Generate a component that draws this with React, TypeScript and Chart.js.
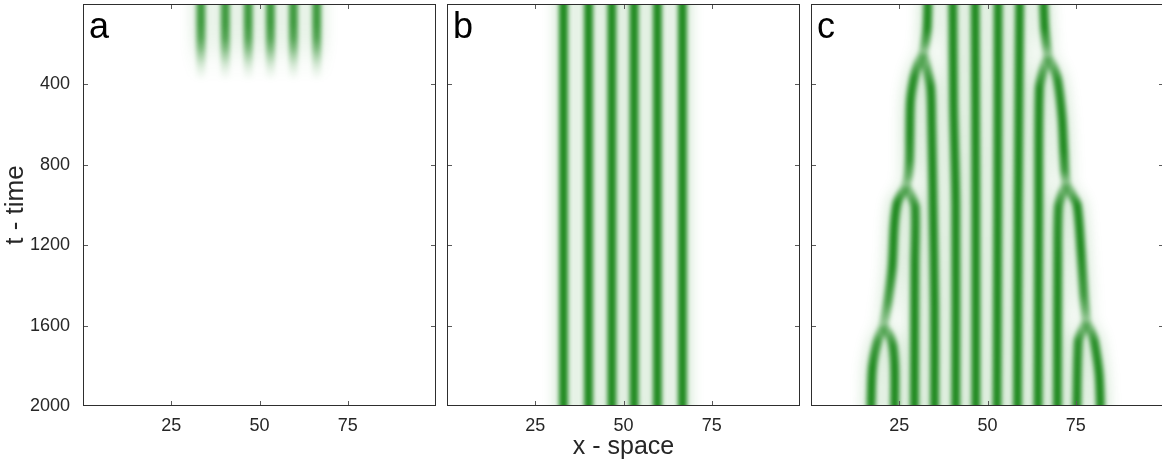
import React, { useEffect, useRef } from 'react';
import { Chart, registerables } from 'chart.js';

Chart.register(...registerables);

// ---------- axes ----------
const X_TICKS = [25, 50, 75];
const T_TICKS = [400, 800, 1200, 1600, 2000];
const X_MIN = 0;
const X_MAX = 100;
const T_MIN = 0;
const T_MAX = 2000;
const PANEL_LETTERS = ['a', 'b', 'c'];
const X_TITLE = 'x - space';
const T_TITLE = 't - time';

// ---------- panel a : six stripes that die out ----------
const A_STRIPE_X = [33.4, 40.3, 46.8, 53.1, 59.6, 66.2];
const A_FADE_T = [0, 100, 170, 220, 260, 300, 340, 380];
const A_FADE_I = [0.85, 0.85, 0.75, 0.55, 0.35, 0.18, 0.07, 0];

// ---------- panel b : six steady stripes ----------
const B_STRIPE_X = [33.0, 40.1, 46.7, 53.0, 59.6, 66.7];
const B_T = [T_MIN, T_MAX];

// ---------- panel c : stripes that split ([x, t, intensity]) ----------
const C_MID1 = [[40.2, 0, 1], [40.4, 500, 1], [41.0, 1000, 1], [41.0, 2000, 1]];
const C_MID2 = [[46.5, 0, 1], [46.7, 1000, 1], [46.7, 2000, 1]];
const C_MID3 = [[53.0, 0, 1], [52.9, 1000, 1], [52.7, 2000, 1]];
const C_MID4 = [[59.1, 0, 1], [58.7, 1000, 1], [58.5, 2000, 1]];

const C_L0 = [[33.1, 0, 1], [32.9, 120, 1], [32.4, 190, 0.75], [31.8, 245, 0.4]];
const C_L1R = [[31.8, 245, 0.4], [32.8, 320, 0.7], [33.9, 415, 1], [34.2, 600, 1], [34.6, 1000, 1], [35.0, 1500, 1], [35.0, 2000, 1]];
const C_L1L = [[31.8, 245, 0.4], [30.3, 300, 0.7], [29.2, 365, 0.95], [28.2, 480, 1], [28.0, 650, 1], [27.9, 780, 0.9], [27.5, 860, 0.65], [26.9, 905, 0.4]];
const C_L2L = [[26.9, 905, 0.4], [25.6, 945, 0.75], [24.4, 990, 1], [23.6, 1100, 1], [23.0, 1310, 1], [21.8, 1480, 0.8], [21.2, 1540, 0.6], [20.5, 1600, 0.4]];
const C_L2R = [[26.9, 905, 0.4], [28.4, 955, 0.65], [29.5, 1010, 0.95], [29.4, 1300, 1], [29.3, 2000, 1]];
const C_L3L = [[20.5, 1600, 0.4], [18.8, 1680, 0.85], [17.4, 1810, 1], [17.0, 2000, 1]];
const C_L3R = [[20.5, 1600, 0.4], [22.3, 1650, 0.7], [23.2, 1700, 0.95], [23.7, 1810, 1], [23.7, 2000, 1]];

const C_R0 = [[65.9, 0, 1], [66.2, 120, 1], [66.7, 200, 0.75], [67.1, 260, 0.4]];
const C_R1L = [[67.1, 260, 0.4], [65.6, 340, 0.75], [64.7, 420, 1], [64.5, 1000, 1], [64.3, 2000, 1]];
const C_R1R = [[67.1, 260, 0.4], [68.8, 320, 0.7], [69.9, 380, 0.95], [71.1, 560, 1], [71.6, 730, 1], [71.9, 830, 0.85], [72.3, 895, 0.4]];
const C_R2L = [[72.3, 895, 0.4], [71.0, 950, 0.7], [70.1, 1010, 0.95], [69.9, 1300, 1], [69.8, 2000, 1]];
const C_R2R = [[72.3, 895, 0.4], [74.0, 950, 0.7], [75.4, 1000, 1], [76.5, 1230, 1], [77.3, 1450, 0.85], [77.7, 1520, 0.65], [78.0, 1580, 0.4]];
const C_R3L = [[78.0, 1580, 0.4], [76.4, 1640, 0.7], [75.7, 1680, 0.95], [75.3, 2000, 1]];
const C_R3R = [[78.0, 1580, 0.4], [79.6, 1640, 0.75], [80.3, 1680, 0.95], [81.6, 1840, 1], [82.0, 2000, 1]];

const C_PATHS = [C_MID1, C_MID2, C_MID3, C_MID4, C_L0, C_L1R, C_L1L, C_L2L, C_L2R, C_L3L, C_L3R, C_R0, C_R1L, C_R1R, C_R2L, C_R2R, C_R3L, C_R3R];

// ---------- styling ----------
const FONT = '"Liberation Sans", Arial, Helvetica, sans-serif';
const TEXT = '#262626';
const HALO_BLUR = 5;
const CORE_BLUR = 2.1;
const CORE_WIDTH = 9;
const HALO_WIDTH = 22;
const HALO_ALPHA = 0.14;
const rgba = (a: number) => `rgba(34,139,34,${Math.max(0, Math.min(1, a)).toFixed(3)})`;

// vertical gradient following the intensity read along the stripe
function intensityGradient(path: number[][], scale: number) {
  return (ctx: any) => {
    const chart = ctx.chart;
    const area = chart.chartArea;
    const ys = chart.scales && chart.scales.y;
    if (!area || !ys) return rgba(scale);
    const h = area.bottom - area.top;
    const g = chart.ctx.createLinearGradient(0, area.top, 0, area.bottom);
    path.forEach((p) => {
      const off = Math.max(0, Math.min(1, (ys.getPixelForValue(p[1]) - area.top) / h));
      g.addColorStop(off, rgba(p[2] * scale));
    });
    return g;
  };
}

function stripeDatasets(path: number[][]): any[] {
  const data = path.map((p) => ({ x: p[0], y: p[1] }));
  const common = {
    data,
    pointRadius: 0,
    pointHoverRadius: 0,
    tension: 0.3,
    fill: false,
    clip: 0,
    borderCapStyle: 'butt',
  };
  return [
    { ...common, layer: 'core', borderColor: intensityGradient(path, 1), borderWidth: CORE_WIDTH, order: 0 },
    { ...common, layer: 'halo', borderColor: intensityGradient(path, HALO_ALPHA), borderWidth: HALO_WIDTH, order: 1 },
  ];
}

function panelA(): any[] {
  return A_STRIPE_X.flatMap((x) => stripeDatasets(A_FADE_T.map((t, k) => [x, t, A_FADE_I[k]])));
}
function panelB(): any[] {
  return B_STRIPE_X.flatMap((x) => stripeDatasets(B_T.map((t) => [x, t, 1])));
}
function panelC(): any[] {
  return C_PATHS.flatMap((p) => stripeDatasets(p));
}

// soften everything drawn inside the plot area (one blur pass on the composite)
function blurArea(chart: any, px: number) {
  const { ctx, canvas, chartArea: a } = chart;
  const x = Math.round(a.left);
  const y = Math.round(a.top);
  const w = Math.round(a.right) - x;
  const h = Math.round(a.bottom) - y;
  const P = Math.ceil(px * 4);
  const off = document.createElement('canvas');
  off.width = w;
  off.height = h + 2 * P;
  const o = off.getContext('2d') as CanvasRenderingContext2D;
  o.drawImage(canvas, x, y, w, h, 0, P, w, h);
  o.drawImage(canvas, x, y + 1, w, 1, 0, 0, w, P);
  o.drawImage(canvas, x, y + h - 2, w, 1, 0, P + h, w, P);
  ctx.save();
  ctx.setTransform(1, 0, 0, 1, 0, 0);
  ctx.clearRect(x, y, w, h);
  ctx.beginPath();
  ctx.rect(x, y, w, h);
  ctx.clip();
  ctx.filter = `blur(${px}px)`;
  ctx.drawImage(off, x, y - P);
  ctx.restore();
}

const softenPlugin = {
  id: 'soften',
  beforeDatasetsDraw(chart: any) {
    chart.$haloDone = false;
  },
  beforeDatasetDraw(chart: any, args: any) {
    const ds = chart.data.datasets[args.index];
    if (ds.layer === 'core' && !chart.$haloDone) {
      blurArea(chart, HALO_BLUR);
      chart.$haloDone = true;
    }
  },
  afterDatasetsDraw(chart: any) {
    blurArea(chart, CORE_BLUR);
  },
};

const decorPlugin = {
  id: 'panelDecor',
  afterDraw(chart: any, _args: any, opts: any) {
    const { ctx, chartArea } = chart;
    const { left, right, top, bottom } = chartArea;
    const xs = chart.scales.x;
    const ys = chart.scales.y;
    ctx.save();
    ctx.lineWidth = 1;
    ctx.strokeStyle = '#5a5a5a';
    ctx.beginPath();
    for (const v of X_TICKS) {
      const px = Math.round(xs.getPixelForValue(v)) + 0.5;
      ctx.moveTo(px, top);
      ctx.lineTo(px, top + 5);
      ctx.moveTo(px, bottom);
      ctx.lineTo(px, bottom - 5);
    }
    for (const v of T_TICKS) {
      if (v >= T_MAX) continue;
      const py = Math.round(ys.getPixelForValue(v)) + 0.5;
      ctx.moveTo(left, py);
      ctx.lineTo(left + 5, py);
      ctx.moveTo(right, py);
      ctx.lineTo(right - 5, py);
    }
    ctx.stroke();
    ctx.strokeStyle = '#2e2e2e';
    ctx.strokeRect(left + 0.5, top + 0.5, right - left - 1, bottom - top - 1);
    ctx.fillStyle = '#000';
    ctx.font = `36px ${FONT}`;
    ctx.textAlign = 'left';
    ctx.textBaseline = 'alphabetic';
    ctx.fillText(opts.letter, left + 6, top + 34);
    ctx.restore();
  },
};

const PADS = [
  { top: 4, left: 0, right: 4, bottom: 0 },
  { top: 4, left: 7, right: 10, bottom: 0 },
  { top: 4, left: 11, right: 6, bottom: 0 },
];
const CANVAS = [
  { left: 0, width: 440 },
  { left: 440, width: 370 },
  { left: 800, width: 370 },
];

function makeConfig(panel: number, datasets: any[]): any {
  const first = panel === 0;
  return {
    type: 'line',
    data: { datasets },
    plugins: [softenPlugin, decorPlugin],
    options: {
      animation: false,
      responsive: false,
      devicePixelRatio: 1,
      events: [],
      layout: { padding: PADS[panel] },
      plugins: {
        legend: { display: false },
        tooltip: { enabled: false },
        panelDecor: { letter: PANEL_LETTERS[panel] },
      },
      scales: {
        x: {
          type: 'linear',
          min: X_MIN,
          max: X_MAX,
          grid: { display: false, drawTicks: false },
          border: { display: false },
          afterBuildTicks: (s: any) => {
            s.ticks = X_TICKS.map((v) => ({ value: v }));
          },
          afterFit: (s: any) => {
            s.height = 64;
            s.paddingLeft = 0;
            s.paddingRight = 0;
          },
          ticks: {
            color: TEXT,
            font: { family: FONT, size: 18 },
            padding: 9,
            maxRotation: 0,
            autoSkip: false,
            callback: (v: any) => String(v),
          },
          title: {
            display: panel === 1,
            text: X_TITLE,
            color: TEXT,
            font: { family: FONT, size: 25 },
            padding: { top: 0, bottom: 8 },
          },
        },
        y: {
          type: 'linear',
          display: first,
          min: T_MIN,
          max: T_MAX,
          reverse: true,
          grid: { display: false, drawTicks: false },
          border: { display: false },
          afterBuildTicks: (s: any) => {
            s.ticks = T_TICKS.map((v) => ({ value: v }));
          },
          afterFit: (s: any) => {
            s.width = first ? 83 : 0;
            s.paddingTop = 0;
            s.paddingBottom = 0;
          },
          ticks: {
            color: TEXT,
            font: { family: FONT, size: 18 },
            padding: 13,
            autoSkip: false,
            callback: (v: any) => String(v),
          },
          title: {
            display: first,
            text: T_TITLE,
            color: TEXT,
            font: { family: FONT, size: 26 },
            padding: 0,
          },
        },
      },
    },
  };
}

export default function App() {
  const r0 = useRef<HTMLCanvasElement>(null);
  const r1 = useRef<HTMLCanvasElement>(null);
  const r2 = useRef<HTMLCanvasElement>(null);

  useEffect(() => {
    const refs = [r0, r1, r2];
    const sets = [panelA(), panelB(), panelC()];
    const charts = refs.map((r, i) => new Chart(r.current as HTMLCanvasElement, makeConfig(i, sets[i])));
    return () => charts.forEach((c) => c.destroy());
  }, []);

  const refs = [r0, r1, r2];
  return (
    <div style={{ position: 'fixed', left: 0, top: 0, width: 1162, height: 470, overflow: 'hidden', background: '#fff' }}>
      {CANVAS.map((c, i) => (
        <canvas
          key={i}
          ref={refs[i]}
          width={c.width}
          height={470}
          style={{ position: 'absolute', left: c.left, top: 0, width: c.width, height: 470 }}
        />
      ))}
    </div>
  );
}
